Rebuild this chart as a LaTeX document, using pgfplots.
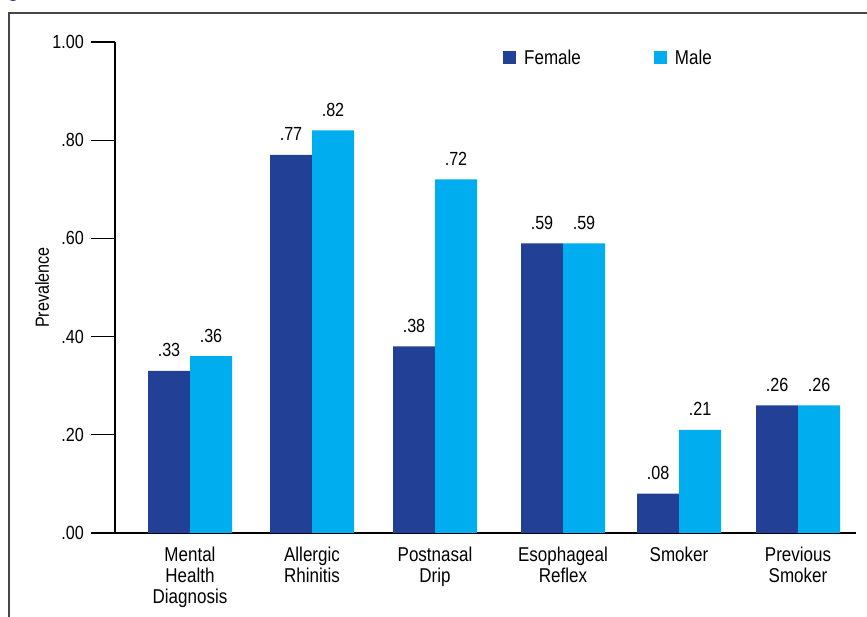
\documentclass[border=0pt]{standalone}
\usepackage{pgfplots}
\pgfplotsset{compat=1.18}
\usepackage{pgfplotstable}
\usepackage{fontspec}
\setmainfont{Liberation Sans}[FakeStretch=0.85]
\definecolor{fem}{RGB}{34,64,150}
\definecolor{mal}{RGB}{0,174,239}
\definecolor{frame}{RGB}{70,70,70}
\pgfplotstableread{
x f m fl ml
190 0.33 0.36 .33 .36
312 0.77 0.82 .77 .82
435 0.38 0.72 .38 .72
563 0.59 0.59 .59 .59
679 0.08 0.21 .08 .21
798 0.26 0.26 .26 .26
}\datatable
\begin{document}
\begin{tikzpicture}
\path[use as bounding box] (0,0) rectangle (867pt,617pt);
\draw[line width=2pt, frame] (8.5pt,-5pt) -- (8.5pt,604.3pt) -- (880pt,604.3pt);
\fill[fem] (13pt,622pt) circle (6pt);
\begin{axis}[
  at={(115pt,84pt)}, anchor=south west,
  scale only axis, width=741pt, height=491pt,
  xmin=115, xmax=856, ymin=0, ymax=1,
  axis x line*=bottom, axis y line*=left,
  axis line style={-, line width=1.2pt, black},
  ybar=0pt, bar width=42pt,
  ytick={0,0.2,0.4,0.6,0.8,1.0},
  yticklabels={.00,.20,.40,.60,.80,1.00},
  tick align=outside, major tick length=24pt,
  ytick style={line width=1.2pt, black},
  xtick=data,
  xticklabels={{Mental\\Health\\Diagnosis},{Allergic\\Rhinitis},{Postnasal\\Drip},{Esophageal\\Reflex},{Smoker},{Previous\\Smoker}},
  xtick style={draw=none},
  xticklabel style={align=center, font=\fontsize{20}{21}\selectfont, inner sep=0pt, anchor=north, yshift=10pt},
  yticklabel style={font=\fontsize{19}{21}\selectfont, inner sep=0pt, xshift=-7pt},
  ylabel={Prevalence},
  ylabel style={at={(axis description cs:-0.0985,0.5)}, anchor=center, font=\fontsize{19}{21}\selectfont},
  point meta=explicit symbolic,
  nodes near coords,
  every node near coord/.append style={font=\fontsize{19}{21}\selectfont, inner sep=0pt, anchor=base, yshift=14pt},
  legend columns=2,
  legend style={at={(axis cs:503,0.968)}, anchor=west, draw=none, inner sep=0pt,
    font=\fontsize{20}{22}\selectfont,
    nodes={inner sep=0pt},
    /tikz/every odd column/.append style={column sep=8pt},
    /tikz/every even column/.append style={column sep=73pt}},
  legend image code/.code={\fill[#1] (0pt,-6.5pt) rectangle (13pt,6.5pt);},
]
\addplot[fill=fem, draw=none] table[x=x, y=f, meta=fl] {\datatable};
\addplot[fill=mal, draw=none] table[x=x, y=m, meta=ml] {\datatable};
\legend{Female, Male}
\end{axis}
\end{tikzpicture}
\end{document}
